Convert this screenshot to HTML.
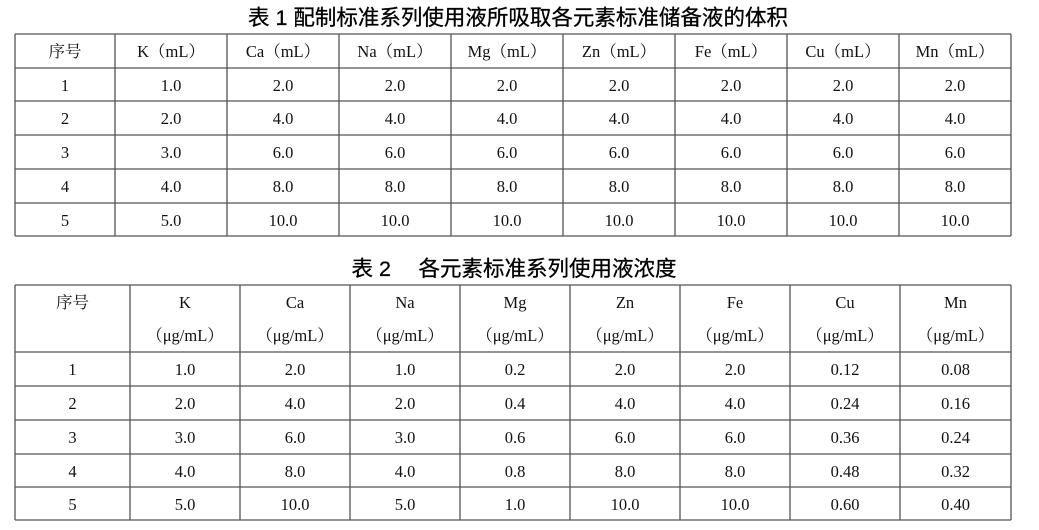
<!DOCTYPE html>
<html><head><meta charset="utf-8"><style>
html,body{margin:0;padding:0;background:#fff;}
svg text{font-family:"Liberation Serif","Noto Serif CJK SC",serif;font-size:16.5px;fill:#111;}
svg text.t{font-family:"Liberation Sans","Noto Sans CJK SC",sans-serif;font-size:21.5px;font-weight:normal;fill:#000;stroke:#000;stroke-width:0.3;}
</style></head><body>
<svg width="1039" height="525" xmlns="http://www.w3.org/2000/svg" id="s"></svg>
<script>
const s=document.getElementById('s');let h='';
function L(x1,y1,x2,y2){h+=`<line x1="${x1}" y1="${y1}" x2="${x2}" y2="${y2}" stroke="#555" stroke-width="1.3"/>`;}
function T(x,y,t,c){h+=`<text x="${x}" y="${y}" text-anchor="middle" ${c?'class="'+c+'"':''}>${t}</text>`;}
T(518,25,'表 1 配制标准系列使用液所吸取各元素标准储备液的体积','t');
T(514,276,'表 2　 各元素标准系列使用液浓度','t');
let c1=[15,115,227,339,451,563,675,787,899,1011],r1=[34,68,101,135,169,203,236];
c1.forEach(x=>L(x,34,x,236));r1.forEach(y=>L(15,y,1011,y));
let hd=['序号','K（mL）','Ca（mL）','Na（mL）','Mg（mL）','Zn（mL）','Fe（mL）','Cu（mL）','Mn（mL）'];
hd.forEach((t,i)=>T((c1[i]+c1[i+1])/2,57,t));
for(let r=1;r<=5;r++){let v=[r,(r).toFixed(1)];for(let k=0;k<7;k++)v.push((2*r).toFixed(1));
v.forEach((t,i)=>T((c1[i]+c1[i+1])/2,r1[r]+23,t));}
let c2=[15,130,240,350,460,570,680,790,900,1011],r2=[285,352,386,420,454,487,520];
c2.forEach(x=>L(x,285,x,520));r2.forEach(y=>L(15,y,1011,y));
let e=['K','Ca','Na','Mg','Zn','Fe','Cu','Mn'];
T((c2[0]+c2[1])/2,308,'序号');
e.forEach((t,i)=>{T((c2[i+1]+c2[i+2])/2,308,t);T((c2[i+1]+c2[i+2])/2,341,'（μg/mL）');});
for(let r=1;r<=5;r++){let v=[r,r.toFixed(1),(2*r).toFixed(1),r.toFixed(1),(0.2*r).toFixed(1),(2*r).toFixed(1),(2*r).toFixed(1),(0.12*r).toFixed(2),(0.08*r).toFixed(2)];
v.forEach((t,i)=>T((c2[i]+c2[i+1])/2,r2[r]+23,t));}
s.innerHTML=h;
</script>
</body></html>
